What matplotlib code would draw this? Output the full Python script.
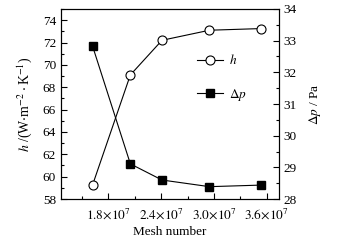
import matplotlib
matplotlib.use('Agg')
import matplotlib.pyplot as plt
from matplotlib.ticker import MultipleLocator, FuncFormatter

plt.rcParams['font.family'] = ['Liberation Serif', 'DejaVu Serif']
plt.rcParams['mathtext.fontset'] = 'stix'
plt.rcParams['font.size'] = 9.5

# data
mesh = [1.62e7, 2.05e7, 2.41e7, 2.95e7, 3.54e7]
h = [59.25, 69.1, 72.2, 73.1, 73.25]
dp = [32.83, 29.11, 28.6, 28.39, 28.44]

fig = plt.figure(figsize=(3.54, 2.43), dpi=100)
ax = fig.add_axes([0.172, 0.181, 0.616, 0.782])
ax2 = ax.twinx()

l1, = ax.plot(mesh, h, '-o', color='black', lw=0.8, ms=6.5, mfc='white', mec='black', mew=0.8)
l2, = ax2.plot(mesh, dp, '-s', color='black', lw=0.8, ms=6, mfc='black', mec='black')

ax.set_xlim(1.26e7, 3.74e7)
ax.set_ylim(58, 75)
ax2.set_ylim(28, 34)

ax.xaxis.set_major_locator(MultipleLocator(0.6e7))
ax.xaxis.set_minor_locator(MultipleLocator(0.3e7))
ax.xaxis.set_major_formatter(FuncFormatter(lambda v, p: r'$%.1f{\times}10^{7}$' % (v / 1e7)))
ax.yaxis.set_major_locator(MultipleLocator(2))
ax.yaxis.set_minor_locator(MultipleLocator(1))
ax2.yaxis.set_major_locator(MultipleLocator(1))
ax2.yaxis.set_minor_locator(MultipleLocator(0.5))

ax.tick_params(which='both', direction='in', top=False, right=False, width=0.8)
ax.tick_params(which='major', length=4)
ax.tick_params(which='minor', length=2)
ax2.tick_params(which='both', direction='in', width=0.8)
ax2.tick_params(which='major', length=4)
ax2.tick_params(which='minor', length=2)
ax.tick_params(axis='x', pad=6)

for a in (ax, ax2):
    for s in a.spines.values():
        s.set_linewidth(0.8)

ax.set_xlabel('Mesh number', labelpad=3)
ax.set_ylabel(r'$h$ /(W$\cdot$m$^{-2}\cdot$K$^{-1}$)', labelpad=6, fontsize=10)
ax2.set_ylabel(r'$\Delta p$ / Pa', labelpad=7)

ax2.legend([l1, l2], [r'$h$', r'$\Delta p$'], loc='upper left',
           bbox_to_anchor=(0.57, 0.83), frameon=False, labelspacing=1.5,
           handlelength=2.0, handletextpad=0.4, fontsize=9.5)

fig.savefig('out.png', dpi=100)
